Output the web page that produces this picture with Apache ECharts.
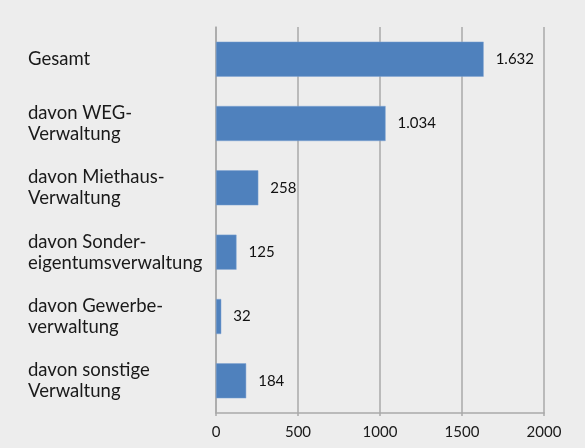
<!DOCTYPE html>
<html><head><meta charset="utf-8">
<script src="https://cdn.jsdelivr.net/npm/echarts@6/dist/echarts.min.js"></script>
<style>html,body{margin:0;padding:0;background:#ededed;}#c{width:585px;height:448px;}</style>
</head><body><div id="c"></div>
<script>
const categories = ["Gesamt", "davon WEG-\nVerwaltung", "davon Miethaus-\nVerwaltung", "davon Sonder-\neigentumsverwaltung", "davon Gewerbe-\nverwaltung", "davon sonstige\nVerwaltung"];
const values = [1632, 1034, 258, 125, 32, 184];
const xTicks = [0, 500, 1000, 1500, 2000];

const fmt = v => String(v).replace(/\B(?=(\d{3})+(?!\d))/g, '.');
const chart = echarts.init(document.getElementById('c'));
chart.setOption({
  backgroundColor: '#ededed',
  animation: false,
  grid: { left: 216, right: 41, top: 27, bottom: 35 },
  xAxis: {
    type: 'value', min: xTicks[0], max: xTicks[xTicks.length-1], interval: 500,
    axisLine: { show: true, lineStyle: { color: '#a9a9a9', width: 1.5 } },
    axisTick: { show: true, length: 3, lineStyle: { color: '#a9a9a9', width: 1.5 } },
    splitLine: { show: true, lineStyle: { color: '#a9a9a9', width: 1.5 } },
    axisLabel: { color: '#1a1a1a', fontFamily: 'Lato', fontSize: 15, margin: 12, formatter: v => String(v) }
  },
  yAxis: {
    type: 'category', data: categories, inverse: true,
    axisLine: { show: true, lineStyle: { color: '#a9a9a9', width: 1.5 } },
    axisTick: { show: false },
    axisLabel: { align: 'left', margin: 188, color: '#1a1a1a', fontFamily: 'Lato', fontSize: 18.5, lineHeight: 21 }
  },
  series: [{
    type: 'bar', data: values, barWidth: 35,
    itemStyle: { color: '#4f81bd', borderColor: '#7fa3d3', borderWidth: 0.5 },
    label: { show: true, position: 'right', distance: 12, color: '#111', fontFamily: 'Lato', fontSize: 15, formatter: p => fmt(p.value) }
  }]
});
</script></body></html>
